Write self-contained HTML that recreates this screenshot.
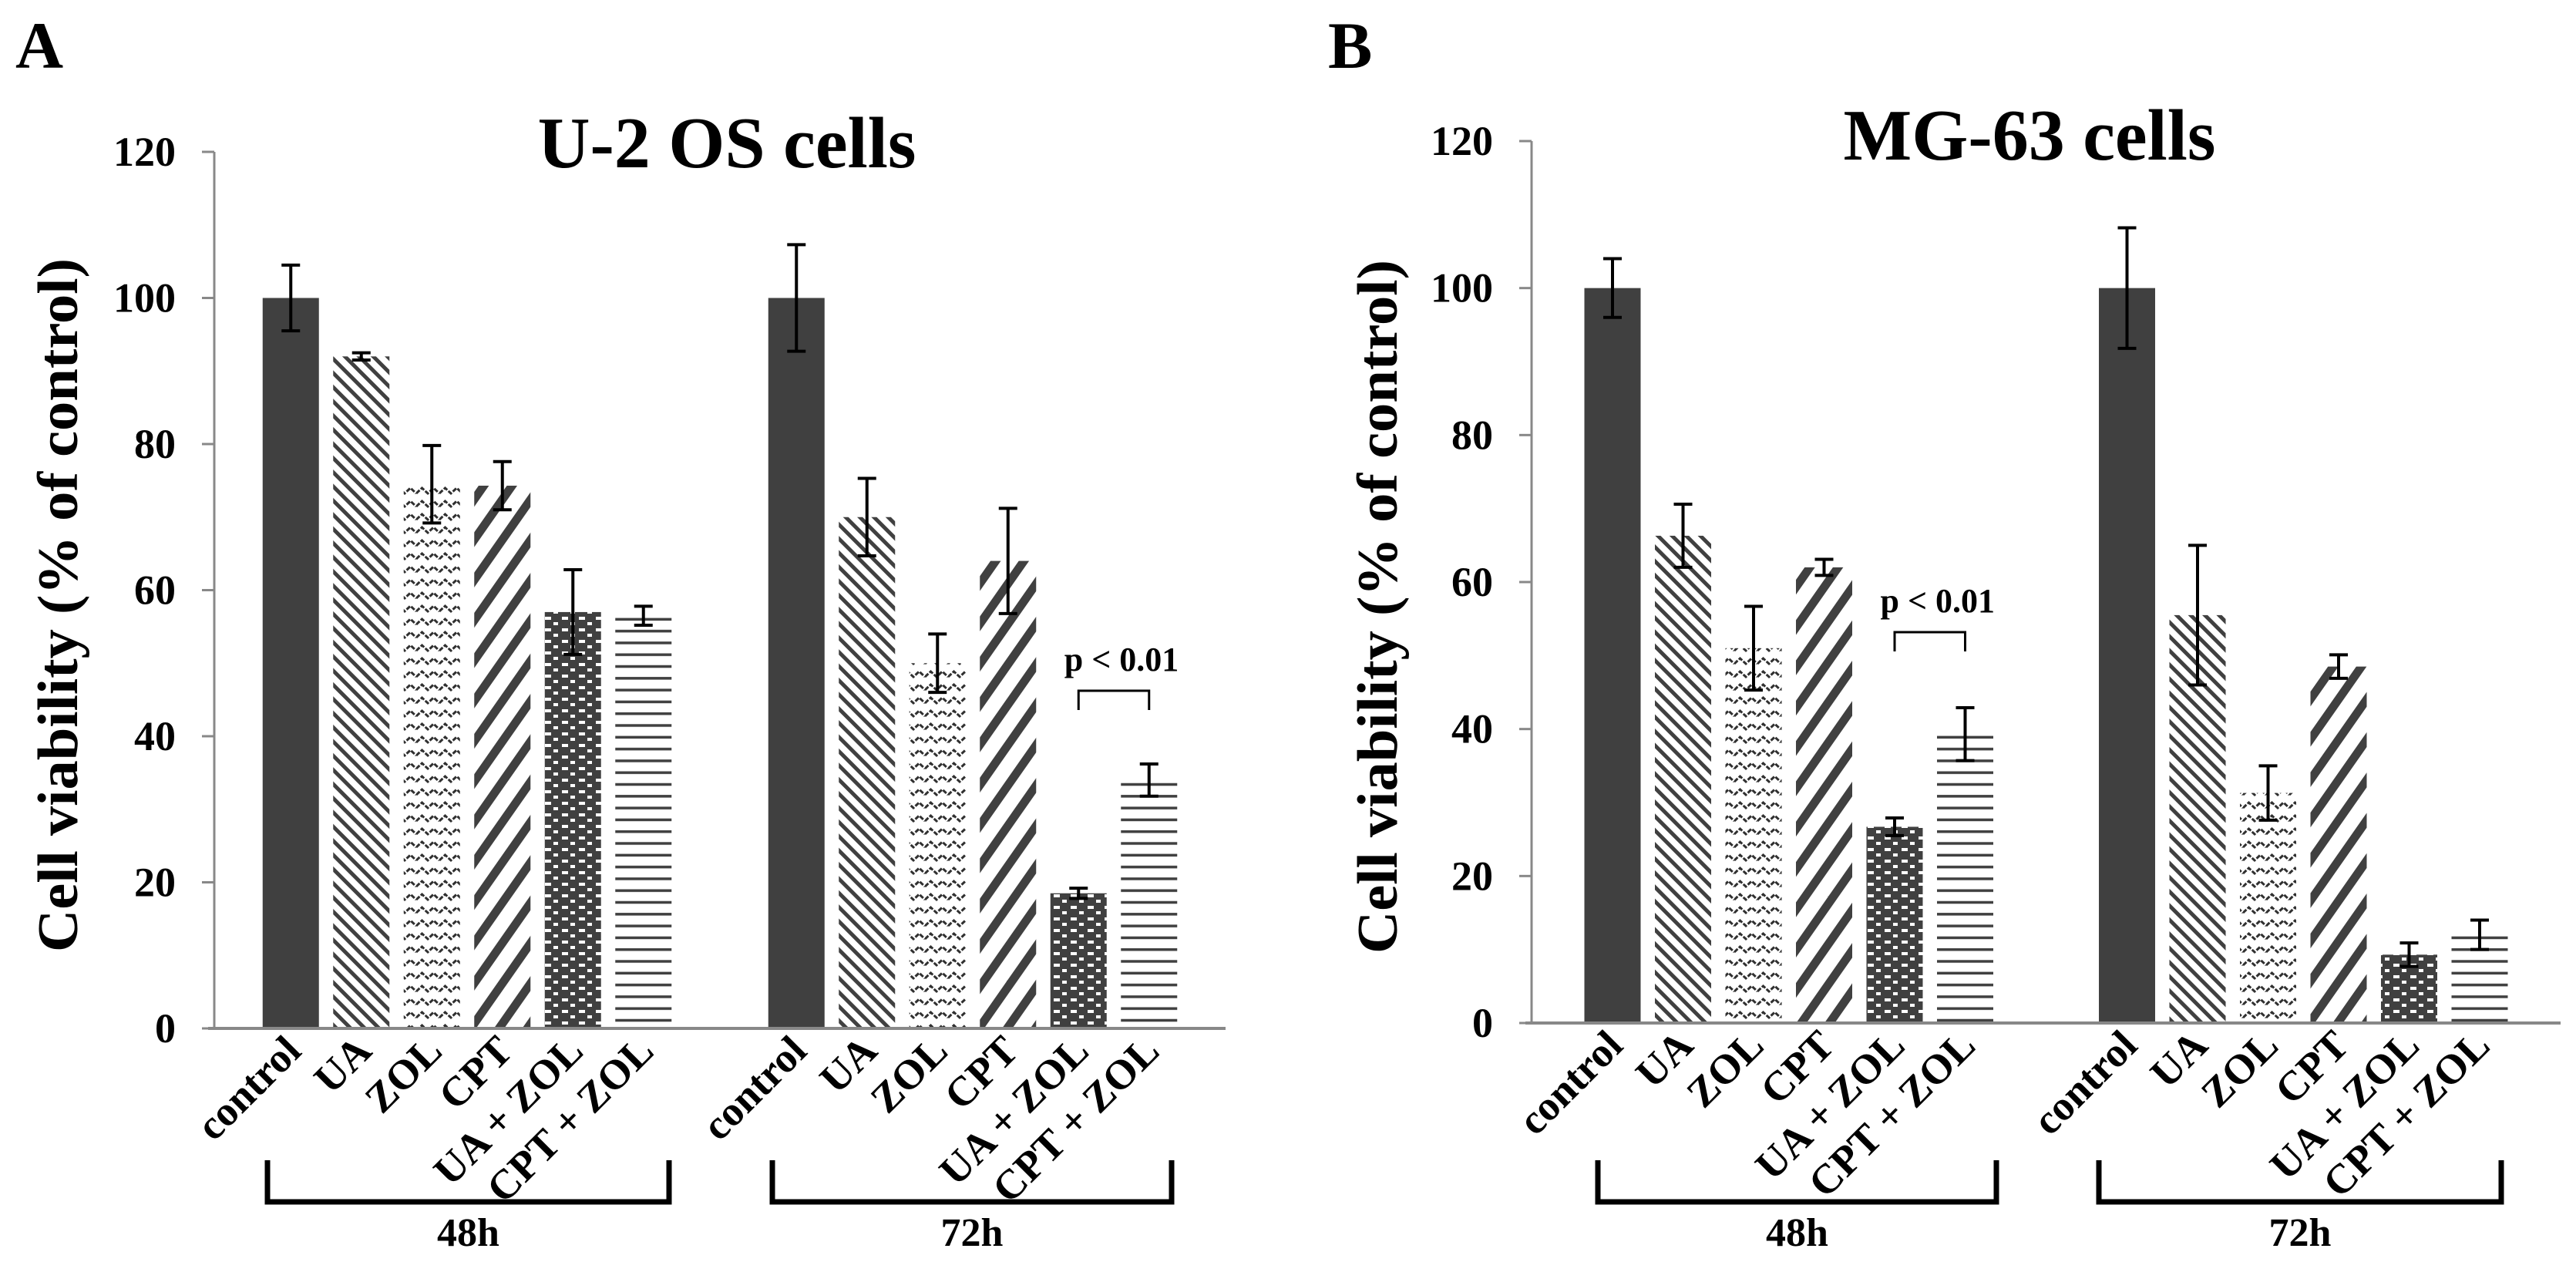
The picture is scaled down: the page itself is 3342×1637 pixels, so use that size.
<!DOCTYPE html>
<html><head><meta charset="utf-8"><style>
html,body{margin:0;padding:0;background:#fff;}
svg{display:block;}
text{font-family:"Liberation Serif",serif;font-weight:bold;fill:#000;}
</style></head>
<body>
<svg id="chart" width="3342" height="1637" viewBox="0 0 3342 1637" xmlns="http://www.w3.org/2000/svg">
<defs>
<pattern id="pUA" patternUnits="userSpaceOnUse" width="13" height="13" patternTransform="rotate(-45)">
<rect width="13" height="13" fill="#fff"/><rect x="0" y="0" width="5" height="13" fill="#404040"/></pattern>
<pattern id="pZOL" patternUnits="userSpaceOnUse" width="30" height="17">
<rect width="30" height="17" fill="#fff"/><path d="M0 11 L7.5 4 L15 11 L22.5 4 L30 11" stroke="#303030" stroke-width="3" fill="none" stroke-dasharray="6 2"/></pattern>
<pattern id="pCPT" patternUnits="userSpaceOnUse" width="30" height="30" patternTransform="rotate(35)">
<rect width="30" height="30" fill="#fff"/><rect x="0" y="0" width="11" height="30" fill="#404040"/></pattern>
<pattern id="pUZ" patternUnits="userSpaceOnUse" width="22" height="15">
<rect width="22" height="15" fill="#404040"/><rect x="3" y="5" width="8" height="4" fill="#fff"/><rect x="14" y="12" width="6" height="3" fill="#fff"/><rect x="14" y="0" width="6" height="1" fill="#fff"/></pattern>
<pattern id="pCZ" patternUnits="userSpaceOnUse" width="20" height="15.3">
<rect width="20" height="15.3" fill="#fff"/><rect x="0" y="6" width="20" height="3.5" fill="#404040"/></pattern>
</defs>
<g id="root"></g>
</svg>
<script>
const treatments = ["control","UA","ZOL","CPT","UA + ZOL","CPT + ZOL"];
const timepoints = ["48h","72h"];
const yTicks = [0,20,40,60,80,100,120];
const u2os48 = [100,92,74.5,74.3,57,56.5];
const u2os48Err = [4.5,0.5,5.3,3.3,5.8,1.3];
const u2os72 = [100,70,50,64,18.5,34];
const u2os72Err = [7.3,5.3,4,7.2,0.7,2.2];
const mg48 = [100,66.3,51,62,26.7,39.3];
const mg48Err = [4,4.3,5.7,1.1,1.2,3.6];
const mg72 = [100,55.5,31.3,48.5,9.3,12];
const mg72Err = [8.2,9.5,3.7,1.6,1.6,2];
const fills = ["#404040","url(#pUA)","url(#pZOL)","url(#pCPT)","url(#pUZ)","url(#pCZ)"];

const NS="http://www.w3.org/2000/svg";
const root=document.getElementById('root');
function mk(tag,attrs,parent,txt){const e=document.createElementNS(NS,tag);for(const k in attrs)e.setAttribute(k,attrs[k]);if(txt!==undefined)e.textContent=txt;(parent||root).appendChild(e);return e;}

function panel(cfg){
  const g=mk('g',{});
  
  
  const y=v=>cfg.y0-(cfg.y0-cfg.y120)*v/120;
  const catW=(cfg.x1-cfg.x0)/timepoints.length;
  const step=91.5, bw=73;
  const xc=(t,i)=>cfg.x0+catW*(t+0.5)+(i-2.5)*step;
  const L=mk('text',{x:cfg.letterX,y:88,'font-size':86},g,cfg.letter);
  
  
  const T=mk('text',{x:cfg.titleX,y:cfg.titleY,'font-size':94,'text-anchor':'middle'},g,cfg.title);
  
  
  const YT=mk('text',{x:0,y:0,'font-size':74,'text-anchor':'middle',textLength:900,lengthAdjust:'spacingAndGlyphs',transform:`translate(${cfg.ytX},${cfg.ytY}) rotate(-90)`},g,'Cell viability (% of control)');
  
  
  const ax=mk('line',{x1:cfg.x0,y1:cfg.y120,x2:cfg.x0,y2:cfg.y0+1,stroke:'#888','stroke-width':3},g);
  
  
  yTicks.forEach(v=>{
    const tk=mk('line',{x1:cfg.x0-16,y1:y(v),x2:cfg.x0,y2:y(v),stroke:'#888','stroke-width':3},g);
    
    
    const tl=mk('text',{x:cfg.x0-50,y:y(v)+18,'font-size':54,'text-anchor':'end'},g,String(v));
    
    
  });
  cfg.series.forEach((vals,t)=>{
    const errs=cfg.errs[t];
    vals.forEach((v,i)=>{
      const cx=xc(t,i);
      const b=mk('rect',{x:cx-bw/2,y:y(v),width:bw,height:y(0)-y(v),fill:fills[i]},g);
      
      
      const e=errs[i];
      const eb=mk('path',{d:`M${cx} ${y(v+e)} V${y(v-e)} M${cx-12} ${y(v+e)} H${cx+12} M${cx-12} ${y(v-e)} H${cx+12}`,stroke:'#000','stroke-width':4,fill:'none'},g);
      
      
      const lx=cx+16, ly=cfg.y0+32;
      const lb=mk('text',{x:lx,y:ly,'font-size':54,'text-anchor':'end',transform:`rotate(-45 ${lx} ${ly})`},g,treatments[i]);
      
      
    });
    const bx0=cfg.brackets[t][0], bx1=cfg.brackets[t][1];
    const br=mk('path',{d:`M${bx0} 1505 V1559 H${bx1} V1505`,stroke:'#000','stroke-width':7,fill:'none'},g);
    
    
    const gl=mk('text',{x:(bx0+bx1)/2,y:1616,'font-size':52,'text-anchor':'middle'},g,timepoints[t]);
    
    
  });
  const xa=mk('line',{x1:cfg.x0-8,y1:cfg.y0,x2:cfg.x1,y2:cfg.y0,stroke:'#888','stroke-width':4},g);
  
  
  const st=cfg.sig.t;
  const sx0=xc(st,4), sx1=xc(st,5);
  const sb=mk('path',{d:`M${sx0} ${cfg.sig.yb} V${cfg.sig.yt} H${sx1} V${cfg.sig.yb}`,stroke:'#000','stroke-width':3,fill:'none'},g);
  
  
  const sl=mk('text',{x:(sx0+sx1)/2+10,y:cfg.sig.yt-26,'font-size':44,'text-anchor':'middle'},g,'p < 0.01');
  
  
}

panel({name:'panel-a-u2os',letter:'A',letterX:20,title:'U-2 OS cells',titleX:943,titleY:217,
  ytX:100,ytY:785,x0:278,x1:1590,y0:1334,y120:197,
  series:[u2os48,u2os72],errs:[u2os48Err,u2os72Err],
  brackets:[[347,868],[1002,1520]],sig:{t:1,yt:896,yb:921}});
panel({name:'panel-b-mg63',letter:'B',letterX:1723,title:'MG-63 cells',titleX:2633,titleY:207,
  ytX:1812,ytY:787,x0:1987,x1:3322,y0:1327,y120:183,
  series:[mg48,mg72],errs:[mg48Err,mg72Err],
  brackets:[[2073,2590],[2723,3245]],sig:{t:0,yt:820,yb:845}});
</script>
</body></html>
